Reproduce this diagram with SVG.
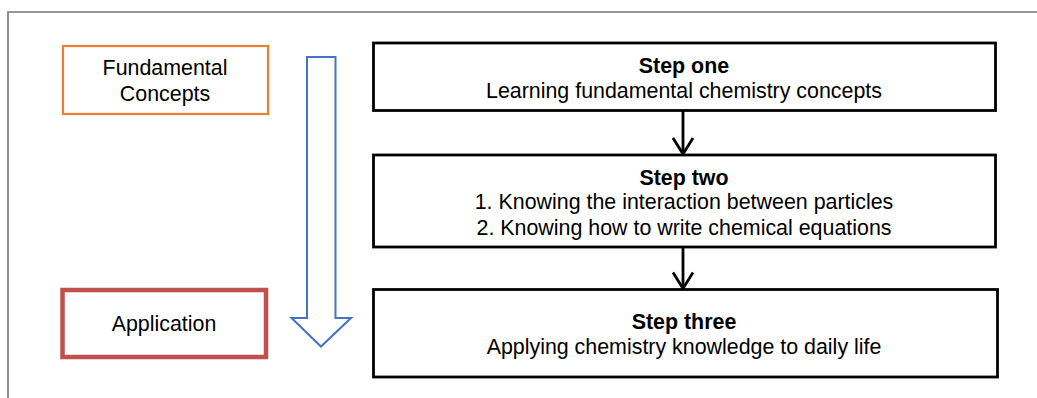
<svg xmlns="http://www.w3.org/2000/svg" width="1037" height="398" viewBox="0 0 1037 398">
<defs>
<style>
text{font-family:"Liberation Sans",Arial,sans-serif;font-size:21.4px;fill:#000;text-anchor:middle}
.b{font-weight:bold}
.step{fill:#fff;stroke:#000;stroke-width:2.8}
.conn{stroke:#000;stroke-width:2.8;fill:none}
</style>
<marker id="chev" viewBox="0 0 20 24" refX="18" refY="12" markerWidth="20" markerHeight="24" markerUnits="userSpaceOnUse" orient="auto">
<path d="M2,2 L18,12 L2,22" fill="none" stroke="#000" stroke-width="2.8"/>
</marker>
</defs>
<rect width="1037" height="398" fill="#fff"/>
<path d="M8,410 V12 H1040" fill="none" stroke="#777" stroke-width="1.6"/>
<g id="fundamental">
<rect x="63" y="46" width="205" height="68" fill="#fff" stroke="#ED7D31" stroke-width="2.2"/>
<text x="165" y="75">Fundamental</text>
<text x="165" y="101">Concepts</text>
</g>
<g id="application">
<rect x="62.5" y="290" width="203.5" height="67" fill="#fff" stroke="#C0504D" stroke-width="4.5"/>
<text x="164" y="331">Application</text>
</g>
<g id="progress-arrow">
<path d="M307,57 H335.5 V318 H351 L321,346.5 L291.5,318 H307 Z" fill="#fff" stroke="#4472C4" stroke-width="2"/>
</g>
<g id="step1">
<rect class="step" x="373.5" y="43" width="622" height="67.5"/>
<text class="b" x="684" y="73">Step one</text>
<text x="684" y="98">Learning fundamental chemistry concepts</text>
</g>
<g id="step2">
<rect class="step" x="373.5" y="155" width="622" height="92"/>
<text class="b" x="684" y="185">Step two</text>
<text x="684" y="209">1. Knowing the interaction between particles</text>
<text x="684" y="235">2. Knowing how to write chemical equations</text>
</g>
<g id="step3">
<rect class="step" x="373.5" y="289.5" width="624" height="87.5"/>
<text class="b" x="684" y="329">Step three</text>
<text x="684" y="354">Applying chemistry knowledge to daily life</text>
</g>
<g id="connectors">
<line class="conn" x1="683" y1="110.5" x2="683" y2="154" marker-end="url(#chev)"/>
<line class="conn" x1="683" y1="247" x2="683" y2="288.5" marker-end="url(#chev)"/>
</g>
</svg>
